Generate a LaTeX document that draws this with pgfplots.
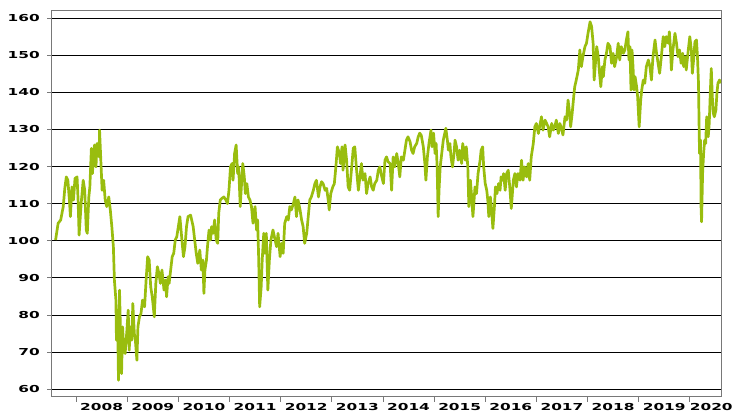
\documentclass[border=0pt]{standalone}
\usepackage{pgfplots}
\pgfplotsset{compat=1.18}
\usepackage{fontspec}
\setmainfont{DejaVu Sans}
\definecolor{lineg}{RGB}{153,189,14}
\definecolor{axgray}{RGB}{120,120,120}
\pgfplotstableread{
year val
2007.60 100.2
2007.65 104.7
2007.70 105.6
2007.75 109.2
2007.78 114.1
2007.81 117.2
2007.84 116.3
2007.87 111.0
2007.89 106.5
2007.92 114.5
2007.95 111.0
2007.98 116.8
2008.02 117.2
2008.04 111.0
2008.06 101.5
2008.10 110.0
2008.14 116.3
2008.17 113.6
2008.20 102.9
2008.22 102.0
2008.25 111.8
2008.27 114.5
2008.30 124.9
2008.32 118.1
2008.36 125.8
2008.39 119.9
2008.41 126.2
2008.45 122.6
2008.46 129.8
2008.49 119.9
2008.51 113.6
2008.54 116.3
2008.57 111.0
2008.60 109.2
2008.64 111.8
2008.67 108.3
2008.70 103.8
2008.73 98.4
2008.75 89.4
2008.78 84.0
2008.79 73.2
2008.81 81.3
2008.83 62.4
2008.85 86.7
2008.87 75.0
2008.89 64.2
2008.91 76.8
2008.93 71.4
2008.96 69.6
2008.99 75.0
2009.02 81.3
2009.04 70.5
2009.06 76.8
2009.09 73.2
2009.11 83.1
2009.14 75.0
2009.16 73.2
2009.19 67.8
2009.21 76.8
2009.24 79.5
2009.27 80.4
2009.30 84.0
2009.34 82.2
2009.37 89.4
2009.40 95.7
2009.43 94.8
2009.46 87.6
2009.49 84.9
2009.53 79.5
2009.56 88.5
2009.59 93.0
2009.62 91.2
2009.65 88.5
2009.68 92.1
2009.72 86.7
2009.75 89.4
2009.77 84.9
2009.80 90.3
2009.82 88.5
2009.85 92.1
2009.88 95.7
2009.91 96.6
2009.94 100.2
2009.97 101.1
2010.00 103.8
2010.03 106.5
2010.07 100.2
2010.10 95.7
2010.13 98.4
2010.16 103.8
2010.19 106.5
2010.24 106.9
2010.29 103.8
2010.32 100.2
2010.35 96.6
2010.38 93.9
2010.42 97.5
2010.45 92.1
2010.48 94.8
2010.50 85.8
2010.52 92.1
2010.55 94.8
2010.57 98.4
2010.60 102.9
2010.63 100.2
2010.65 103.8
2010.68 102.0
2010.71 105.6
2010.74 100.2
2010.77 99.3
2010.79 107.4
2010.82 111.0
2010.85 111.4
2010.89 111.8
2010.93 111.0
2010.96 110.0
2010.99 113.6
2011.02 119.9
2011.05 120.8
2011.07 116.3
2011.10 123.5
2011.13 125.8
2011.16 118.1
2011.18 119.9
2011.21 109.2
2011.24 116.3
2011.26 120.8
2011.29 117.2
2011.31 112.7
2011.34 115.4
2011.37 111.8
2011.40 111.0
2011.43 109.2
2011.46 104.7
2011.50 109.2
2011.53 102.9
2011.55 105.6
2011.57 95.7
2011.59 82.2
2011.62 87.6
2011.64 94.8
2011.67 102.0
2011.69 96.6
2011.72 102.0
2011.75 86.7
2011.78 94.8
2011.81 100.2
2011.85 102.9
2011.92 98.4
2011.95 102.0
2011.99 95.7
2012.02 99.3
2012.05 96.6
2012.08 104.7
2012.12 106.5
2012.15 105.6
2012.18 109.2
2012.21 108.3
2012.25 110.0
2012.28 111.8
2012.31 106.5
2012.34 111.0
2012.38 108.3
2012.41 105.6
2012.44 103.8
2012.47 99.3
2012.51 102.0
2012.54 106.5
2012.57 111.0
2012.60 111.8
2012.64 113.6
2012.67 115.4
2012.70 116.3
2012.74 111.8
2012.77 114.5
2012.80 115.9
2012.83 115.4
2012.87 113.6
2012.90 114.1
2012.93 111.0
2012.95 108.3
2012.98 112.7
2013.02 114.5
2013.05 115.4
2013.08 119.9
2013.11 125.3
2013.15 123.5
2013.17 120.8
2013.20 125.3
2013.22 119.0
2013.26 125.8
2013.29 121.7
2013.32 114.5
2013.35 113.6
2013.39 119.9
2013.42 124.9
2013.45 125.3
2013.48 119.9
2013.52 113.6
2013.55 117.2
2013.58 120.8
2013.61 116.3
2013.65 118.1
2013.68 112.7
2013.71 115.4
2013.75 117.2
2013.78 114.5
2013.81 113.6
2013.84 115.4
2013.88 116.3
2013.91 119.0
2013.94 119.9
2013.97 117.7
2014.01 115.4
2014.04 121.7
2014.07 122.6
2014.10 121.3
2014.14 120.8
2014.17 113.6
2014.20 122.6
2014.23 119.9
2014.27 123.5
2014.30 120.8
2014.33 117.2
2014.36 122.6
2014.40 121.7
2014.43 124.4
2014.46 127.1
2014.49 128.0
2014.53 126.7
2014.56 124.4
2014.59 123.5
2014.62 125.3
2014.66 126.2
2014.69 128.0
2014.72 129.0
2014.75 128.4
2014.79 125.3
2014.82 120.8
2014.84 116.3
2014.87 122.6
2014.90 126.2
2014.92 128.0
2014.94 129.8
2014.96 125.3
2014.99 129.0
2015.02 123.5
2015.04 126.2
2015.06 119.9
2015.08 106.5
2015.10 114.5
2015.12 119.9
2015.15 123.5
2015.18 127.1
2015.21 129.0
2015.23 130.3
2015.26 127.1
2015.28 124.4
2015.31 126.2
2015.33 122.6
2015.36 119.9
2015.39 123.5
2015.41 127.1
2015.44 125.3
2015.47 121.7
2015.50 124.4
2015.54 120.8
2015.56 126.2
2015.58 124.4
2015.61 121.7
2015.63 125.3
2015.66 119.9
2015.68 109.2
2015.71 116.3
2015.73 112.7
2015.76 106.5
2015.80 114.5
2015.83 112.7
2015.86 118.1
2015.90 121.7
2015.92 124.4
2015.95 125.3
2015.97 119.9
2016.00 115.4
2016.03 113.6
2016.05 111.0
2016.07 106.5
2016.10 111.8
2016.12 109.2
2016.15 103.3
2016.18 109.2
2016.20 114.5
2016.23 112.7
2016.26 115.4
2016.29 113.6
2016.31 117.2
2016.34 116.3
2016.36 118.1
2016.39 113.6
2016.42 118.1
2016.45 119.0
2016.48 114.5
2016.51 108.7
2016.55 116.3
2016.58 118.1
2016.61 114.5
2016.64 118.1
2016.68 116.3
2016.71 121.7
2016.74 116.3
2016.77 119.9
2016.81 117.2
2016.84 120.8
2016.87 116.3
2016.90 122.6
2016.94 126.2
2016.97 130.7
2017.00 131.6
2017.04 128.9
2017.07 131.2
2017.10 133.4
2017.13 129.8
2017.17 132.5
2017.20 131.6
2017.23 130.7
2017.26 128.0
2017.30 131.6
2017.33 129.8
2017.36 130.7
2017.39 132.5
2017.43 128.9
2017.46 131.6
2017.49 130.3
2017.52 128.5
2017.56 133.4
2017.59 132.5
2017.62 137.9
2017.65 134.3
2017.67 130.7
2017.70 134.3
2017.73 138.8
2017.75 141.5
2017.78 143.3
2017.82 146.0
2017.85 151.4
2017.88 146.9
2017.91 149.6
2017.95 152.3
2017.98 153.2
2018.01 155.9
2018.05 159.0
2018.08 157.7
2018.11 153.2
2018.13 143.3
2018.16 148.7
2018.18 152.3
2018.21 149.6
2018.23 146.0
2018.26 141.5
2018.29 146.9
2018.31 144.2
2018.34 148.7
2018.37 150.5
2018.40 153.2
2018.44 152.3
2018.47 147.8
2018.50 150.5
2018.53 146.9
2018.57 149.6
2018.60 153.2
2018.63 148.7
2018.66 152.3
2018.70 150.5
2018.73 151.4
2018.76 154.1
2018.79 156.3
2018.81 148.7
2018.83 152.3
2018.85 140.6
2018.87 151.4
2018.89 146.9
2018.91 140.6
2018.93 144.2
2018.96 141.5
2018.98 138.8
2019.01 130.7
2019.04 137.9
2019.06 140.6
2019.09 143.3
2019.12 142.4
2019.15 146.9
2019.19 148.7
2019.22 146.9
2019.25 143.3
2019.28 149.6
2019.32 154.1
2019.35 150.5
2019.38 147.8
2019.41 145.1
2019.45 150.5
2019.48 155.0
2019.51 152.3
2019.54 155.0
2019.58 153.2
2019.60 156.3
2019.62 152.3
2019.64 146.0
2019.67 151.4
2019.71 155.9
2019.74 153.2
2019.77 149.6
2019.80 151.4
2019.83 147.8
2019.86 150.5
2019.88 146.9
2019.91 149.6
2019.93 146.0
2019.97 151.4
2020.00 155.0
2020.03 151.4
2020.05 145.1
2020.08 149.6
2020.10 153.6
2020.13 154.1
2020.15 149.6
2020.17 142.4
2020.18 132.5
2020.19 123.5
2020.21 127.1
2020.22 109.2
2020.23 105.1
2020.25 118.1
2020.27 123.5
2020.29 127.1
2020.31 126.2
2020.33 133.4
2020.36 128.0
2020.38 131.6
2020.40 139.7
2020.42 146.4
2020.44 138.8
2020.46 134.3
2020.48 133.4
2020.51 135.2
2020.53 139.7
2020.55 142.4
2020.58 143.3
2020.60 142.4
}\datatable
\begin{document}
\begin{tikzpicture}
\begin{axis}[
  scale only axis,
  width=669pt, height=386pt,
  xmin=2007.53, xmax=2020.61,
  ymin=57.9, ymax=161.9,
  axis line style={draw=axgray, line width=1pt},
  ytick={60,70,...,160},
  ymajorgrids,
  grid style={black, line width=0.9pt},
  xtick={2008,2009,2010,2011,2012,2013,2014,2015,2016,2017,2018,2019,2020},
  xticklabels={},
  extra x ticks={2008.5,2009.5,2010.5,2011.5,2012.5,2013.5,2014.5,2015.5,2016.5,2017.5,2018.5,2019.5,2020.42},
  extra x tick labels={2008,2009,2010,2011,2012,2013,2014,2015,2016,2017,2018,2019,2020},
  extra x tick style={major tick length=0pt, xticklabel style={yshift=-3pt}},
  tick align=outside,
  major tick length=5pt,
  tick style={axgray, line width=0.8pt},
  xtick pos=bottom, ytick pos=left,
  tick label style={font=\bfseries\fontsize{9.6}{10}\selectfont, xscale=1.6},
  /pgf/number format/assume math mode=true,
  yticklabel style={xshift=-1pt},
]
\addplot[lineg, line width=2.7pt, line join=round, no marks] table[x=year, y=val] {\datatable};
\end{axis}
\pgfresetboundingbox
\path (current axis.south west) ++(-52pt,-17pt) rectangle ++(733pt,414pt);
\end{tikzpicture}
\end{document}
